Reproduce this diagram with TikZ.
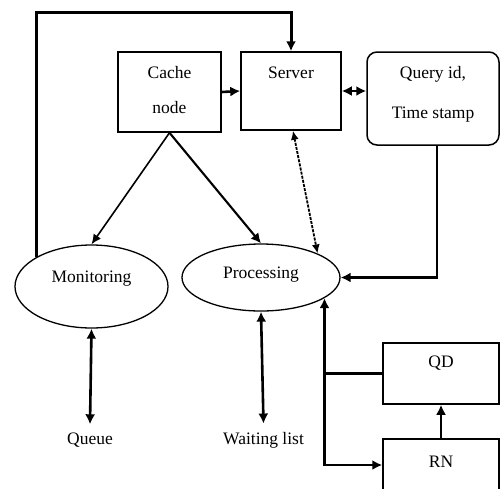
\documentclass[tikz,border=0pt]{standalone}
\usepackage{fontspec}
\setmainfont{Liberation Serif}
\usetikzlibrary{arrows.meta,shapes.geometric,calc}
\begin{document}
\begin{tikzpicture}[x=1pt,y=-1pt,
  every node/.style={font=\fontsize{17.5}{20}\selectfont},
  box/.style={draw,line width=1.5pt,inner sep=0pt,align=center},
  ell/.style={draw,ellipse,line width=1.3pt,inner sep=0pt,align=center},
  lbl/.style={inner sep=2pt,outer sep=7pt},
  tip/.tip={Latex[length=10pt,width=10pt]},
  arr/.style={line width=2.6pt,-tip},
  darr/.style={line width=2.6pt,tip-tip},
  thinarr/.style={line width=1.6pt,-{Latex[length=10pt,width=9pt]}}]
\useasboundingbox (0,0) rectangle (500,488);
\fill[white] (0,0) rectangle (500,488);

\node[box,minimum width=103pt,minimum height=80pt] (cache) at (169.5,92) {Cache\\[14.5pt]node\\[-15.5pt]\mbox{}};
\node[box,minimum width=100pt,minimum height=78pt] (server) at (291,91) {Server\\[17pt]\mbox{}};
\node[box,rounded corners=10pt,minimum width=132pt,minimum height=93pt] (query) at (433,98.5) {Query id,\\[20pt]Time stamp\\[-8pt]\mbox{}};

\node[ell,minimum width=153pt,minimum height=83pt] (mon) at (91.5,286.5) {Monitoring\\[0pt]\mbox{}};
\node[ell,minimum width=158pt,minimum height=67pt] (proc) at (261,277.5) {Processing\\[-10pt]\mbox{}};

\node[box,minimum width=116pt,minimum height=61pt] (qd) at (441,373.5) {QD\\[4pt]\mbox{}};
\node[box,minimum width=116pt,minimum height=52pt] (rn) at (441,465) {RN\\[-13pt]\mbox{}};

\node[lbl] (queue) at (90,440.5) {Queue};
\node[lbl] (wait) at (263.5,440.5) {Waiting list};

% connectors
\draw[arr,line width=3pt] (mon.152) -- ++(0,-245) -| (server.north);
\draw[arr] (cache.east) -- (server.west);
\draw[darr] (server.east) -- (query.west |- server.east);
\draw[thinarr] (cache.south) -- (mon.north);
\draw[arr,line width=2.1pt] (cache.south) -- (proc.north);
\draw[line width=1.8pt,dash pattern=on 3pt off 1.2pt,{Latex[length=9pt,width=8pt]}-{Latex[length=9pt,width=8pt]}] ([xshift=2pt]server.south) -- (proc.23);
\draw[arr] ([xshift=4pt]query.south) |- (proc.east);
\draw[darr] (mon.south) -- (queue.north);
\draw[darr] (proc.south) -- (wait.north);
\draw[arr] (qd.west) -| (proc.-18);
\draw[arr] (proc.-18 |- qd.west) |- (rn.west);
\draw[arr] (rn.north) -- (qd.south);
\end{tikzpicture}
\end{document}
